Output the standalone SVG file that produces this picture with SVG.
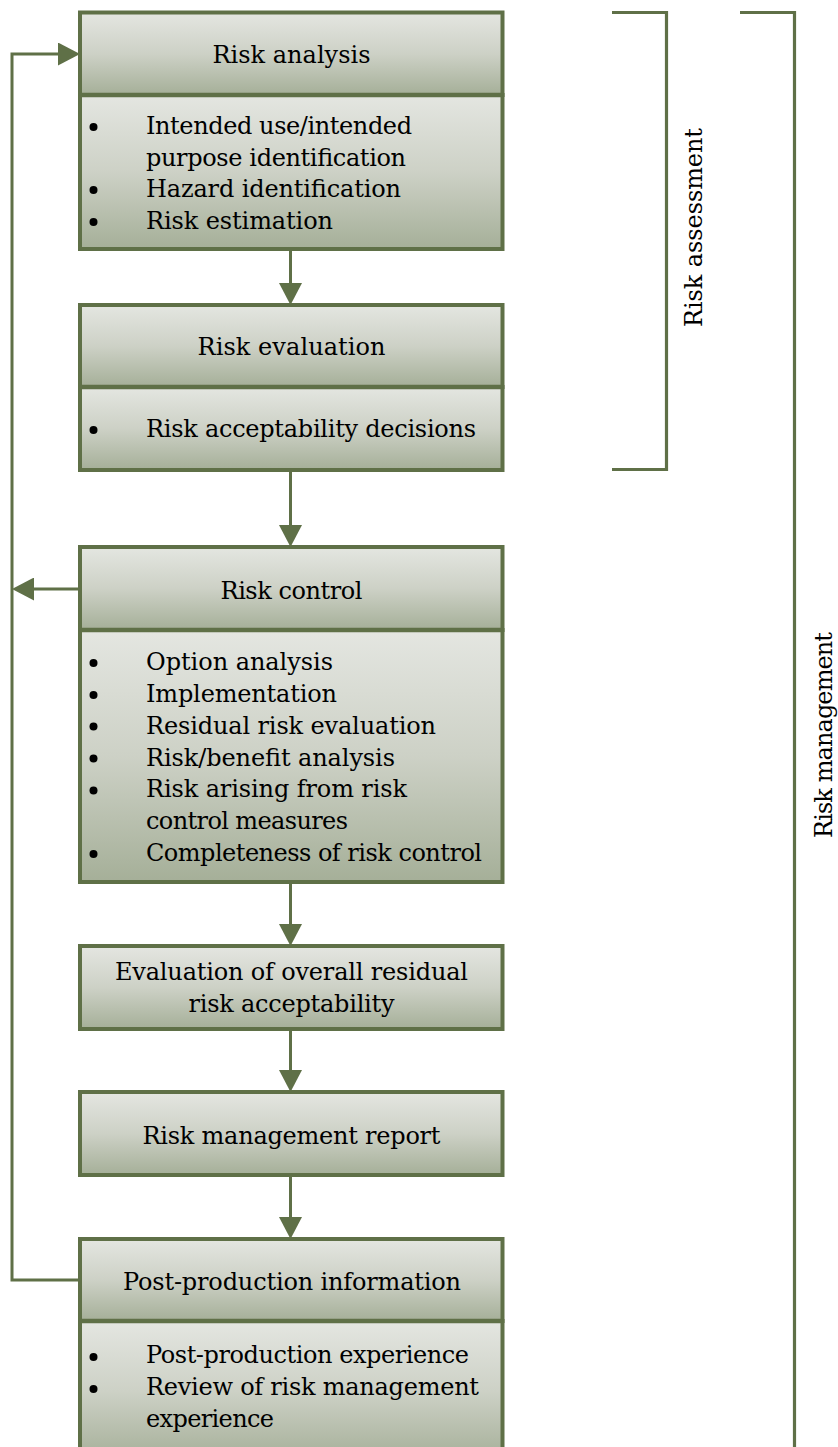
<svg xmlns="http://www.w3.org/2000/svg" width="838" height="1447" viewBox="0 0 838 1447">
  <style>
    .sec { fill: url(#boxFill); stroke: #5f7047; stroke-width: 4; }
    .div { stroke: #5f7047; stroke-width: 4.5; }
    .t { font-family: "DejaVu Serif", "Liberation Serif", serif; font-size: 24px; fill: #000; }
    .c { text-anchor: middle; }
    .wire { fill: none; stroke: #5f7047; stroke-width: 3; }
    .brace { fill: none; stroke: #5f7047; stroke-width: 3.2; }
    .dot { fill: #000; }
  </style>
  <defs>
    <linearGradient id="boxFill" x1="0" y1="0" x2="0" y2="1">
      <stop offset="0" stop-color="#e4e6e1"/>
      <stop offset="0.5" stop-color="#cdd1c6"/>
      <stop offset="1" stop-color="#a5af98"/>
    </linearGradient>
    <marker id="arrow" markerUnits="userSpaceOnUse" viewBox="0 0 22 23" markerWidth="22" markerHeight="23" refX="8" refY="11.5" orient="auto">
      <path d="M0,0 L22,11.5 L0,23 z" fill="#5f7047"/>
    </marker>
  </defs>

  <!-- connectors -->
  <g id="connectors">
    <line class="wire" x1="290.5" y1="249" x2="290.5" y2="291" marker-end="url(#arrow)"/>
    <line class="wire" x1="290.5" y1="470" x2="290.5" y2="533" marker-end="url(#arrow)"/>
    <line class="wire" x1="290.5" y1="882" x2="290.5" y2="932" marker-end="url(#arrow)"/>
    <line class="wire" x1="290.5" y1="1029" x2="290.5" y2="1078" marker-end="url(#arrow)"/>
    <line class="wire" x1="290.5" y1="1175" x2="290.5" y2="1225" marker-end="url(#arrow)"/>
    <!-- feedback loop from post-production back to analysis -->
    <polyline class="wire" points="80,1280 12,1280 12,54 66,54" marker-end="url(#arrow)"/>
    <!-- risk control output into the loop -->
    <line class="wire" x1="80" y1="589" x2="26" y2="589" marker-end="url(#arrow)"/>
  </g>

  <!-- brackets -->
  <g id="bracket-assessment">
    <polyline class="brace" points="612,12.5 666.5,12.5 666.5,469.5 612,469.5"/>
    <text class="t c" transform="translate(702,227.5) rotate(-90)" textLength="199">Risk assessment</text>
  </g>
  <g id="bracket-management">
    <polyline class="brace" points="740,12.5 794.5,12.5 794.5,1450"/>
    <text class="t c" transform="translate(831.5,735) rotate(-90)" textLength="206">Risk management</text>
  </g>

  <!-- Risk analysis -->
  <g id="risk-analysis">
    <rect class="sec" x="80" y="12.5" width="422.5" height="82.5"/>
    <rect class="sec" x="80" y="95" width="422.5" height="154"/>
    <line class="div" x1="80" y1="95" x2="502.5" y2="95"/>
    <text class="t c" x="291.5" y="62.5" textLength="158">Risk analysis</text>
    <circle class="dot" cx="93.5" cy="127" r="4"/>
    <circle class="dot" cx="93.5" cy="190" r="4"/>
    <circle class="dot" cx="93.5" cy="222" r="4"/>
    <text class="t" x="146" y="133.5" textLength="266">Intended use/intended</text>
    <text class="t" x="146" y="165.5" textLength="260">purpose identification</text>
    <text class="t" x="146" y="197" textLength="255">Hazard identification</text>
    <text class="t" x="146" y="229" textLength="187">Risk estimation</text>
  </g>

  <!-- Risk evaluation -->
  <g id="risk-evaluation">
    <rect class="sec" x="80" y="305" width="422.5" height="82"/>
    <rect class="sec" x="80" y="387" width="422.5" height="83"/>
    <line class="div" x1="80" y1="387" x2="502.5" y2="387"/>
    <text class="t c" x="291.5" y="355" textLength="188">Risk evaluation</text>
    <circle class="dot" cx="93.5" cy="430" r="4"/>
    <text class="t" x="146" y="436.5" textLength="330">Risk acceptability decisions</text>
  </g>

  <!-- Risk control -->
  <g id="risk-control">
    <rect class="sec" x="80" y="547" width="422.5" height="83"/>
    <rect class="sec" x="80" y="630" width="422.5" height="252"/>
    <line class="div" x1="80" y1="630" x2="502.5" y2="630"/>
    <text class="t c" x="291.5" y="598.5" textLength="142">Risk control</text>
    <circle class="dot" cx="93.5" cy="663" r="4"/>
    <circle class="dot" cx="93.5" cy="695" r="4"/>
    <circle class="dot" cx="93.5" cy="726.5" r="4"/>
    <circle class="dot" cx="93.5" cy="758.5" r="4"/>
    <circle class="dot" cx="93.5" cy="790.5" r="4"/>
    <circle class="dot" cx="93.5" cy="854" r="4"/>
    <text class="t" x="146" y="669.5" textLength="187">Option analysis</text>
    <text class="t" x="146" y="702" textLength="191">Implementation</text>
    <text class="t" x="146" y="733.5" textLength="290">Residual risk evaluation</text>
    <text class="t" x="146" y="765.5" textLength="249">Risk/benefit analysis</text>
    <text class="t" x="146" y="797" textLength="261">Risk arising from risk</text>
    <text class="t" x="146" y="828.5" textLength="202">control measures</text>
    <text class="t" x="146" y="860.5" textLength="336">Completeness of risk control</text>
  </g>

  <!-- Evaluation of overall residual risk acceptability -->
  <g id="overall-residual">
    <rect class="sec" x="80" y="946" width="422.5" height="83"/>
    <text class="t c" x="291.5" y="980" textLength="353">Evaluation of overall residual</text>
    <text class="t c" x="291.5" y="1011.5" textLength="206">risk acceptability</text>
  </g>

  <!-- Risk management report -->
  <g id="management-report">
    <rect class="sec" x="80" y="1092" width="422.5" height="83"/>
    <text class="t c" x="291.5" y="1144" textLength="298">Risk management report</text>
  </g>

  <!-- Post-production information -->
  <g id="post-production">
    <rect class="sec" x="80" y="1239" width="422.5" height="82"/>
    <rect class="sec" x="80" y="1321" width="422.5" height="140"/>
    <line class="div" x1="80" y1="1321" x2="502.5" y2="1321"/>
    <text class="t c" x="292" y="1290" textLength="338">Post-production information</text>
    <circle class="dot" cx="93.5" cy="1357" r="4"/>
    <circle class="dot" cx="93.5" cy="1389" r="4"/>
    <text class="t" x="146" y="1363" textLength="323">Post-production experience</text>
    <text class="t" x="146" y="1395" textLength="333">Review of risk management</text>
    <text class="t" x="146" y="1427" textLength="128">experience</text>
  </g>
</svg>
